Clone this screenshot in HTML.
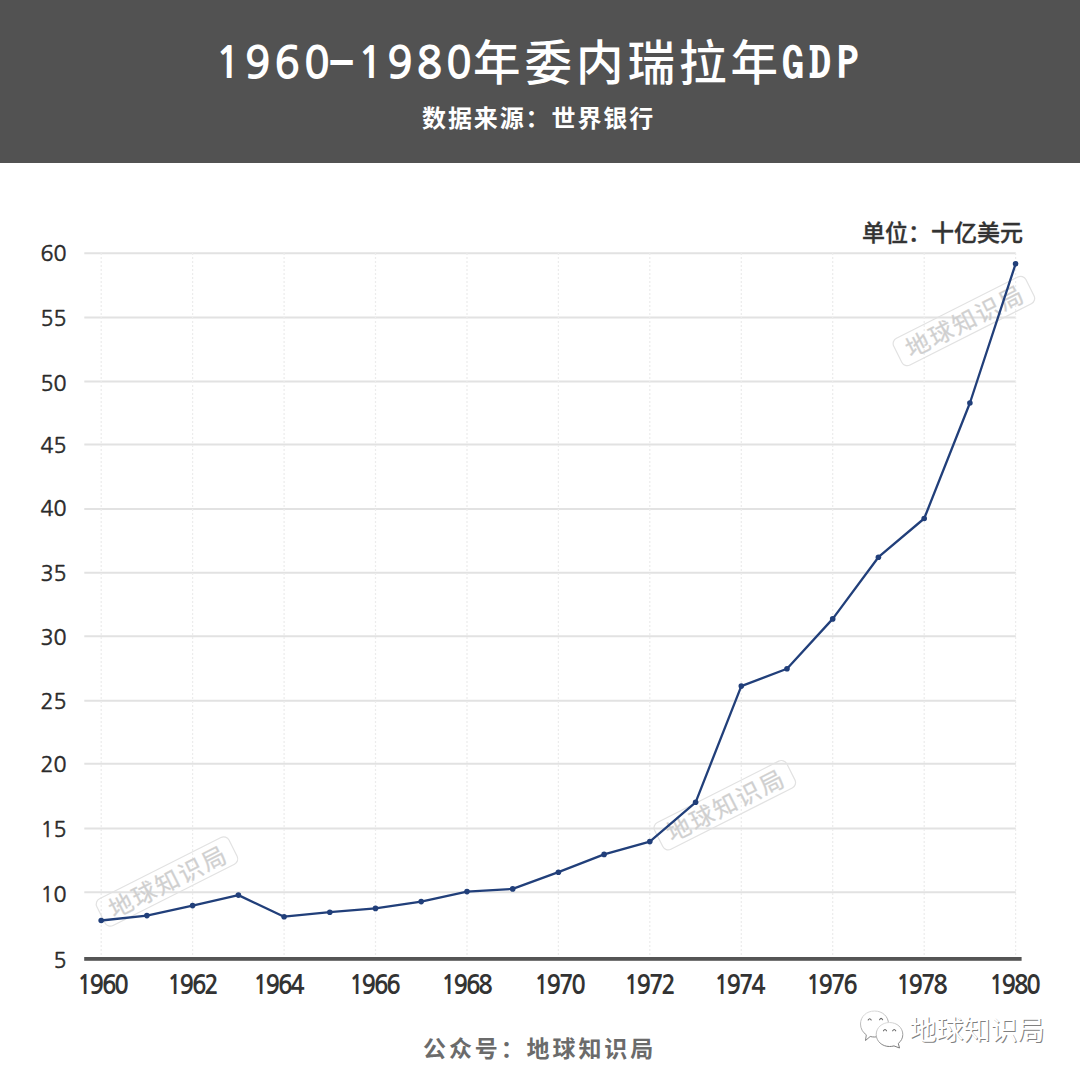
<!DOCTYPE html>
<html><head><meta charset="utf-8">
<style>
html,body{margin:0;padding:0;background:#fff;}
body{width:1080px;height:1080px;position:relative;overflow:hidden;font-family:"Liberation Sans","Noto Sans CJK SC",sans-serif;}
.hdr{position:absolute;left:0;top:0;width:1080px;height:163.2px;background:#525252;}
.title{position:absolute;left:215px;top:28px;color:#fff;font-family:"Noto Sans CJK SC",sans-serif;font-weight:500;font-size:46px;line-height:60px;white-space:nowrap;}
.td{font-family:"NanumGothic",sans-serif;font-weight:700;font-size:43.5px;letter-spacing:3.2px;position:relative;top:0px;}
.td2{margin-right:-2.4px;}
.tdash{display:inline-block;transform:scaleX(1.17);transform-origin:0 50%;margin-left:-4px;font-family:"IPAGothic",sans-serif;font-weight:400;font-size:43px;letter-spacing:6.4px;-webkit-text-stroke:1.8px #fff;position:relative;top:1px;}
.tc{font-family:"Noto Sans CJK SC",sans-serif;font-weight:500;font-size:47.5px;letter-spacing:4px;position:relative;top:1.5px;}
.tg{font-family:"IPAGothic",sans-serif;font-weight:400;font-size:43px;letter-spacing:6px;-webkit-text-stroke:1.8px #fff;position:relative;top:1px;}
.sub{position:absolute;left:422px;top:100px;color:#fff;font-family:"Noto Sans CJK SC",sans-serif;font-weight:700;font-size:24px;letter-spacing:1.9px;line-height:34px;white-space:nowrap;}
.unit{position:absolute;left:862px;top:214px;color:#333;-webkit-text-stroke:0.35px #333;font-family:"Noto Sans CJK SC",sans-serif;font-weight:500;font-size:23px;line-height:34px;white-space:nowrap;}
.chart{position:absolute;left:0;top:0;}
.wmt{font-family:"Noto Sans CJK SC",sans-serif;font-weight:400;font-size:24px;letter-spacing:2px;fill:#cfcfcf;stroke:#d8d8d8;stroke-width:0.3px;}
.yl{position:absolute;left:0;width:66.5px;text-align:right;font-family:"NanumGothic",sans-serif;font-size:21.5px;line-height:30px;color:#2a2a2a;-webkit-text-stroke:0.5px #2a2a2a;}
.xl{position:absolute;top:967px;width:80px;text-align:center;font-family:"NanumGothic",sans-serif;font-weight:700;font-size:26px;line-height:36px;color:#333;letter-spacing:-2.4px;text-indent:-2.4px;transform:scaleX(0.925);}
.foot{position:absolute;left:423px;top:1030px;color:#6b6b6b;font-family:"Noto Sans CJK SC",sans-serif;font-weight:700;font-size:23px;letter-spacing:2.9px;line-height:34px;white-space:nowrap;}
.wx{position:absolute;left:909.5px;top:1012px;color:#fff;font-family:"Noto Sans CJK SC",sans-serif;font-weight:400;font-size:27px;line-height:34px;text-shadow:1px 1px 0.4px #808080;white-space:nowrap;}
</style></head><body>
<div class="hdr"></div>
<div class="title"><span class="td">1960</span><span class="tdash">-</span><span class="td td2">1980</span><span class="tc">年委内瑞拉年</span><span class="tg">GDP</span></div>
<div class="sub">数据来源：世界银行</div>
<div class="unit">单位：十亿美元</div>
<svg class="chart" width="1080" height="1080" viewBox="0 0 1080 1080">
<line x1="84.3" y1="253.2" x2="1015.8" y2="253.2" stroke="#e2e2e2" stroke-width="2"/>
<line x1="84.3" y1="317.6" x2="1015.8" y2="317.6" stroke="#e2e2e2" stroke-width="2"/>
<line x1="84.3" y1="381.6" x2="1015.8" y2="381.6" stroke="#e2e2e2" stroke-width="2"/>
<line x1="84.3" y1="444.4" x2="1015.8" y2="444.4" stroke="#e2e2e2" stroke-width="2"/>
<line x1="84.3" y1="508.9" x2="1015.8" y2="508.9" stroke="#e2e2e2" stroke-width="2"/>
<line x1="84.3" y1="572.7" x2="1015.8" y2="572.7" stroke="#e2e2e2" stroke-width="2"/>
<line x1="84.3" y1="636.2" x2="1015.8" y2="636.2" stroke="#e2e2e2" stroke-width="2"/>
<line x1="84.3" y1="700.7" x2="1015.8" y2="700.7" stroke="#e2e2e2" stroke-width="2"/>
<line x1="84.3" y1="763.8" x2="1015.8" y2="763.8" stroke="#e2e2e2" stroke-width="2"/>
<line x1="84.3" y1="828.4" x2="1015.8" y2="828.4" stroke="#e2e2e2" stroke-width="2"/>
<line x1="84.3" y1="892.2" x2="1015.8" y2="892.2" stroke="#e2e2e2" stroke-width="2"/>
<line x1="101.2" y1="253" x2="101.2" y2="957" stroke="#ececec" stroke-width="1.2" stroke-dasharray="2 2"/>
<line x1="192.6" y1="253" x2="192.6" y2="957" stroke="#ececec" stroke-width="1.2" stroke-dasharray="2 2"/>
<line x1="284.1" y1="253" x2="284.1" y2="957" stroke="#ececec" stroke-width="1.2" stroke-dasharray="2 2"/>
<line x1="375.5" y1="253" x2="375.5" y2="957" stroke="#ececec" stroke-width="1.2" stroke-dasharray="2 2"/>
<line x1="467.0" y1="253" x2="467.0" y2="957" stroke="#ececec" stroke-width="1.2" stroke-dasharray="2 2"/>
<line x1="558.4" y1="253" x2="558.4" y2="957" stroke="#ececec" stroke-width="1.2" stroke-dasharray="2 2"/>
<line x1="649.8" y1="253" x2="649.8" y2="957" stroke="#ececec" stroke-width="1.2" stroke-dasharray="2 2"/>
<line x1="741.3" y1="253" x2="741.3" y2="957" stroke="#ececec" stroke-width="1.2" stroke-dasharray="2 2"/>
<line x1="832.7" y1="253" x2="832.7" y2="957" stroke="#ececec" stroke-width="1.2" stroke-dasharray="2 2"/>
<line x1="924.2" y1="253" x2="924.2" y2="957" stroke="#ececec" stroke-width="1.2" stroke-dasharray="2 2"/>
<line x1="1015.6" y1="253" x2="1015.6" y2="957" stroke="#ececec" stroke-width="1.2" stroke-dasharray="2 2"/>
<rect x="84.2" y="957" width="937.4" height="3.8" fill="#555555"/>
<g transform="translate(167 881.5) rotate(-26.8)"><rect x="-74" y="-15" width="148" height="30" rx="6" fill="none" stroke="#e2e2e2" stroke-width="1.2"/><text x="1" y="9.5" text-anchor="middle" class="wmt">地球知识局</text></g>
<g transform="translate(724.8 805.2) rotate(-26.8)"><rect x="-74" y="-15" width="148" height="30" rx="6" fill="none" stroke="#e2e2e2" stroke-width="1.2"/><text x="1" y="9.5" text-anchor="middle" class="wmt">地球知识局</text></g>
<g transform="translate(963.9 321) rotate(-26.8)"><rect x="-74" y="-15" width="148" height="30" rx="6" fill="none" stroke="#e2e2e2" stroke-width="1.2"/><text x="1" y="9.5" text-anchor="middle" class="wmt">地球知识局</text></g>
<path d="M101.2 920.5 L146.9 915.6 L192.6 905.6 L238.4 895.1 L284.1 916.7 L329.8 912.2 L375.5 908.4 L421.2 901.6 L467.0 891.6 L512.7 888.9 L558.4 872.2 L604.1 854.4 L649.8 841.6 L695.6 802.3 L741.3 686.1 L787.0 668.7 L832.7 618.9 L878.4 557.2 L924.2 518.5 L969.9 403.0 L1015.6 263.8" fill="none" stroke="#213f7a" stroke-width="2.3" stroke-linejoin="round"/>
<circle cx="101.2" cy="920.5" r="2.8" fill="#213f7a"/>
<circle cx="146.9" cy="915.6" r="2.8" fill="#213f7a"/>
<circle cx="192.6" cy="905.6" r="2.8" fill="#213f7a"/>
<circle cx="238.4" cy="895.1" r="2.8" fill="#213f7a"/>
<circle cx="284.1" cy="916.7" r="2.8" fill="#213f7a"/>
<circle cx="329.8" cy="912.2" r="2.8" fill="#213f7a"/>
<circle cx="375.5" cy="908.4" r="2.8" fill="#213f7a"/>
<circle cx="421.2" cy="901.6" r="2.8" fill="#213f7a"/>
<circle cx="467.0" cy="891.6" r="2.8" fill="#213f7a"/>
<circle cx="512.7" cy="888.9" r="2.8" fill="#213f7a"/>
<circle cx="558.4" cy="872.2" r="2.8" fill="#213f7a"/>
<circle cx="604.1" cy="854.4" r="2.8" fill="#213f7a"/>
<circle cx="649.8" cy="841.6" r="2.8" fill="#213f7a"/>
<circle cx="695.6" cy="802.3" r="2.8" fill="#213f7a"/>
<circle cx="741.3" cy="686.1" r="2.8" fill="#213f7a"/>
<circle cx="787.0" cy="668.7" r="2.8" fill="#213f7a"/>
<circle cx="832.7" cy="618.9" r="2.8" fill="#213f7a"/>
<circle cx="878.4" cy="557.2" r="2.8" fill="#213f7a"/>
<circle cx="924.2" cy="518.5" r="2.8" fill="#213f7a"/>
<circle cx="969.9" cy="403.0" r="2.8" fill="#213f7a"/>
<circle cx="1015.6" cy="263.8" r="2.8" fill="#213f7a"/>
</svg>
<div class="yl" style="top:239.0px">60</div>
<div class="yl" style="top:304.4px">55</div>
<div class="yl" style="top:368.9px">50</div>
<div class="yl" style="top:430.8px">45</div>
<div class="yl" style="top:494.3px">40</div>
<div class="yl" style="top:559.3px">35</div>
<div class="yl" style="top:622.6px">30</div>
<div class="yl" style="top:687.1px">25</div>
<div class="yl" style="top:750.0px">20</div>
<div class="yl" style="top:814.5px">15</div>
<div class="yl" style="top:880.0px">10</div>
<div class="yl" style="top:945.5px">5</div>
<div class="xl" style="left:63.2px">1960</div>
<div class="xl" style="left:152.9px">1962</div>
<div class="xl" style="left:238.9px">1964</div>
<div class="xl" style="left:335.3px">1966</div>
<div class="xl" style="left:426.6px">1968</div>
<div class="xl" style="left:519.6px">1970</div>
<div class="xl" style="left:609.6px">1972</div>
<div class="xl" style="left:700.3px">1974</div>
<div class="xl" style="left:791.8px">1976</div>
<div class="xl" style="left:881.5px">1978</div>
<div class="xl" style="left:974.6px">1980</div>
<div class="foot">公众号：地球知识局</div>
<svg style="position:absolute;left:855px;top:1005px" width="60" height="50" viewBox="0 0 60 50">
<defs><linearGradient id="sg" x1="0" y1="0" x2="0.3" y2="1"><stop offset="0" stop-color="#e4e4e4"/><stop offset="0.55" stop-color="#b0b0b0"/><stop offset="1" stop-color="#7a7a7a"/></linearGradient></defs>
<g fill="#fff" stroke="url(#sg)" stroke-width="1">
<path d="M19.5 6 C27.5 6 33.5 11.5 33.5 19 C33.5 26 27.5 32 19.5 32 C18 32 16.5 31.8 15.2 31.5 L10.5 35.5 L11.3 29.8 C7.8 27.5 5.5 23.5 5.5 19 C5.5 11.5 11.5 6 19.5 6 Z"/>
<path d="M34.5 17.5 C27 17.5 21.2 22.8 21.2 29.5 C21.2 36.2 27 41.5 34.5 41.5 C36 41.5 37.5 41.3 39 40.9 L44.5 43 L43.3 38.4 C46.2 36.2 47.8 33 47.8 29.5 C47.8 22.8 42 17.5 34.5 17.5 Z"/>
</g>
<g fill="none" stroke="#666" stroke-width="1.1" stroke-linecap="round">
<path d="M13.2 15 Q14.7 12.4 16.2 15"/><path d="M24.6 14.7 Q26.1 12.1 27.6 14.7"/>
<path d="M28.5 25.8 Q30 23.2 31.5 25.8"/><path d="M37.7 25.8 Q39.2 23.2 40.7 25.8"/>
</g>
</svg>
<div class="wx">地球知识局</div>
</body></html>
